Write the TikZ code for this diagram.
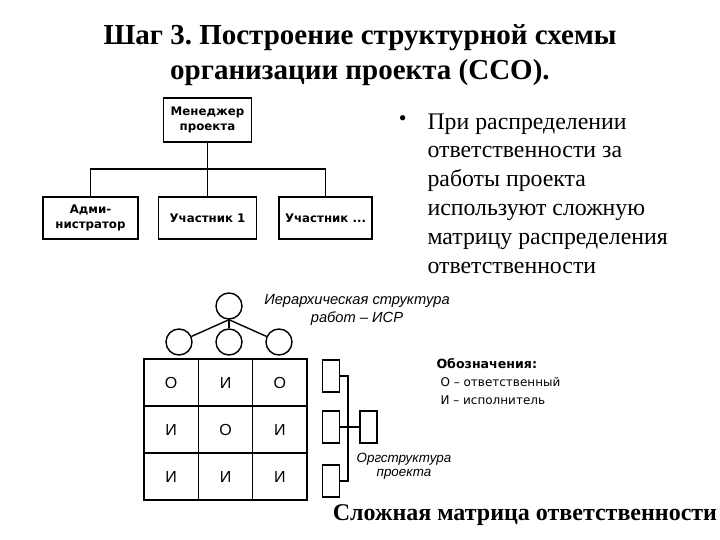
\documentclass[tikz,border=0pt]{standalone}
\usepackage{fontspec}
\setmainfont{Liberation Serif}
\newfontfamily\boxfont{DejaVu Sans}
\newfontfamily\lsans{Liberation Sans}
\frenchspacing
\begin{document}
\begin{tikzpicture}[x=1pt,y=-1pt,
  orgbox/.style={draw,line width=1.4pt,font=\boxfont\bfseries\fontsize{11.8}{15}\selectfont,align=center,inner sep=0pt},
  conn/.style={line width=1.4pt},
  tcirc/.style={draw,circle,line width=1.4pt,minimum size=26pt,inner sep=0pt},
  cell/.style={draw,line width=1.4pt,minimum width=54.33pt,minimum height=47pt,inner sep=0pt,font=\lsans\fontsize{16}{18}\selectfont},
  orect/.style={draw,line width=1.2pt,minimum width=17pt,minimum height=32pt,inner sep=0pt},
  ital/.style={font=\lsans\itshape\fontsize{14.7}{18}\selectfont,align=center},
]
\useasboundingbox[fill=white] (0,0) rectangle (720,540);
% title
\node[font=\bfseries\fontsize{29}{35}\selectfont,align=center] (title) at (360,55) {Шаг 3. Построение структурной схемы\\организации проекта (ССО).};
% org chart
\node[orgbox,minimum width=88pt,minimum height=44pt] (mgr) at (207.5,120) {Менеджер\\проекта};
\node[orgbox,minimum width=95pt,minimum height=42pt] (adm) at (90.5,218) {Адми-\\нистратор};
\node[orgbox,minimum width=98pt,minimum height=42pt] (p1) at (207.5,218) {Участник 1};
\node[orgbox,minimum width=93pt,minimum height=42pt] (p2) at (325.5,218) {Участник ...};
\coordinate (bus) at (207.5,169);
\draw[conn] (mgr.south) -- (p1.north);
\draw[conn] (adm.north) |- (bus) -| (p2.north);
% bullet text
\node[anchor=north east,font=\fontsize{22}{28.8}\selectfont] (bul) at (410,112) {•};
\node[anchor=north west,align=left,font=\fontsize{23.8}{28.8}\selectfont] (btext) at (424,110) {При распределении\\ответственности за\\работы проекта\\используют сложную\\матрицу распределения\\ответственности};
% tree
\node[tcirc] (t0) at (229,306) {};
\node[tcirc] (t1) at (179,342) {};
\node[tcirc] (t2) at (229,342) {};
\node[tcirc] (t3) at (279,342) {};
\draw[conn] (t0.south) -- (t1);
\draw[conn] (t0.south) -- (t2);
\draw[conn] (t0.south) -- (t3);
\node[ital] (isr) at (357,310) {Иерархическая структура\\работ – ИСР};
% matrix
\node[cell] (m11) at (171.2,382.5) {О};
\node[cell] (m12) at (225.5,382.5) {И};
\node[cell] (m13) at (279.8,382.5) {О};
\node[cell] (m21) at (171.2,429.5) {И};
\node[cell] (m22) at (225.5,429.5) {О};
\node[cell] (m23) at (279.8,429.5) {И};
\node[cell] (m31) at (171.2,476.5) {И};
\node[cell] (m32) at (225.5,476.5) {И};
\node[cell] (m33) at (279.8,476.5) {И};
% org structure
\node[orect] (r1) at (331,376) {};
\node[orect] (r2) at (331,427) {};
\node[orect] (r3) at (368.5,427) {};
\node[orect] (r4) at (331,481) {};
\coordinate (j) at (348,427);
\draw[line width=1.2pt] (r1.east) -| (j);
\draw[line width=1.2pt] (r4.east) -| (j);
\draw[line width=1.2pt] (r2.east) -- (r3.west);
\node[ital,font=\lsans\itshape\fontsize{13.4}{13.5}\selectfont] (ors) at (404,466) {Оргструктура\\проекта};
% legend
\node[anchor=west,font=\boxfont\bfseries\fontsize{12.6}{13}\selectfont] (leg) at (433,364) {Обозначения:};
\node[anchor=west,font=\boxfont\fontsize{12}{13}\selectfont] (lo) at (437,382) {О – ответственный};
\node[anchor=west,font=\boxfont\fontsize{12}{13}\selectfont] (li) at (437,400) {И – исполнитель};
% bottom
\node[font=\bfseries\fontsize{24}{26}\selectfont] (bottom) at (525,515) {Сложная матрица ответственности};
\end{tikzpicture}
\end{document}
